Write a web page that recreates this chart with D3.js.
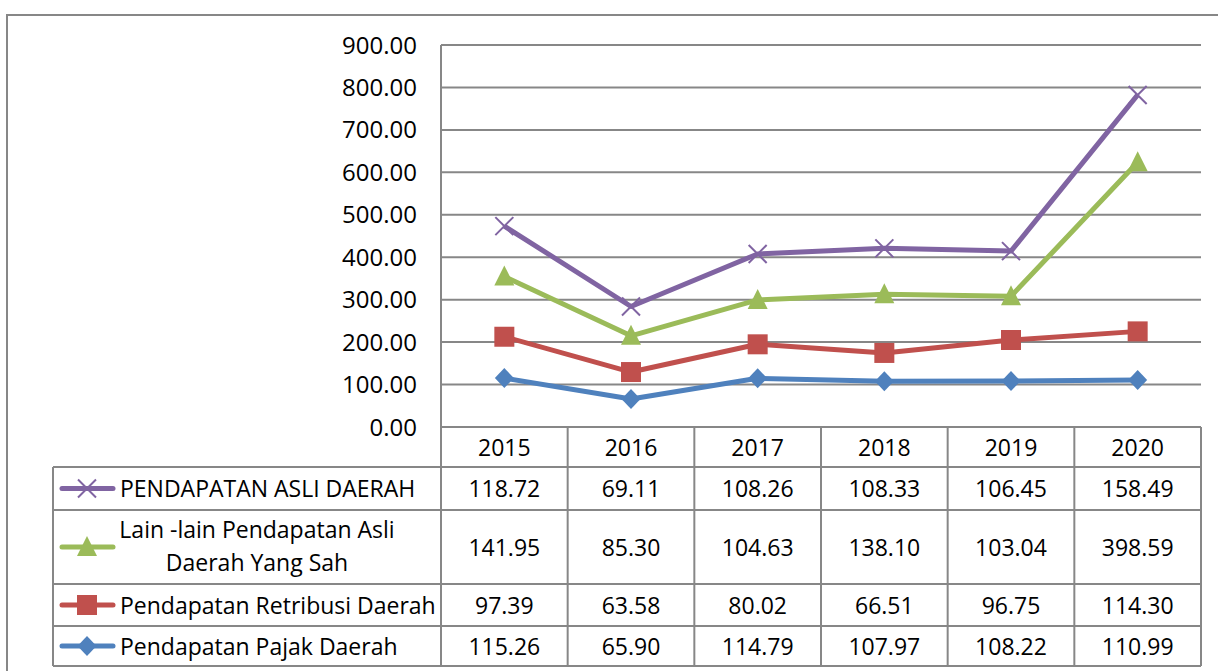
<!DOCTYPE html>
<html><head><meta charset="utf-8">
<script src="https://cdn.jsdelivr.net/npm/d3@7"></script>
<style>body{margin:0;background:#fff}svg{display:block}text{font-family:"Open Sans",Lato,sans-serif;fill:#000}</style>
</head><body>
<svg id="c" width="1218" height="671"></svg>
<script>
const years = ["2015","2016","2017","2018","2019","2020"];
const pajakDaerah = [115.26, 65.90, 114.79, 107.97, 108.22, 110.99];
const retribusiDaerah = [97.39, 63.58, 80.02, 66.51, 96.75, 114.30];
const lainLainPAD = [141.95, 85.30, 104.63, 138.10, 103.04, 398.59];
const pendapatanAsliDaerah = [118.72, 69.11, 108.26, 108.33, 106.45, 158.49];
const yTickValues = [0,100,200,300,400,500,600,700,800,900];
const seriesNames = ["Pendapatan Pajak Daerah","Pendapatan Retribusi Daerah","Lain -lain Pendapatan Asli Daerah Yang Sah","PENDAPATAN ASLI DAERAH"];

const svg = d3.select("#c");
const grid = "#878787";
const FS = 23;
const x = d3.scaleBand().domain(years).range([441,1201]);
const y = d3.scaleLinear().domain([0,900]).range([427,45]);

// outer border
svg.append("rect").attr("x",7).attr("y",15).attr("width",1230).attr("height",700)
  .attr("fill","none").attr("stroke",grid).attr("stroke-width",2);

// gridlines
svg.append("g").selectAll("line").data(yTickValues).join("line")
  .attr("x1",441).attr("x2",1201).attr("y1",d=>y(d)).attr("y2",d=>y(d))
  .attr("stroke",grid).attr("stroke-width",2);
// y labels
svg.append("g").selectAll("text").data(yTickValues).join("text")
  .attr("x",417).attr("y",d=>y(d)+8.5).attr("text-anchor","end")
  .attr("font-size",24).text(d=>d3.format(".2f")(d));
// y axis line
svg.append("line").attr("x1",441).attr("x2",441).attr("y1",y(900)).attr("y2",666)
  .attr("stroke",grid).attr("stroke-width",2);

// table
const rowYs = [467,510,584,626,666];
const tab = svg.append("g");
rowYs.forEach(r=>tab.append("line").attr("x1",53).attr("x2",1201).attr("y1",r).attr("y2",r).attr("stroke",grid).attr("stroke-width",2));
tab.append("line").attr("x1",53).attr("x2",53).attr("y1",467).attr("y2",666).attr("stroke",grid).attr("stroke-width",2);
tab.selectAll("line.v").data(years).join("line").attr("class","v")
  .attr("x1",d=>x(d)+x.bandwidth()).attr("x2",d=>x(d)+x.bandwidth()).attr("y1",427).attr("y2",666)
  .attr("stroke",grid).attr("stroke-width",2);
tab.selectAll("text.yr").data(years).join("text").attr("class","yr")
  .attr("x",d=>x(d)+x.bandwidth()/2).attr("y",456).attr("text-anchor","middle").attr("font-size",FS).text(d=>d);

// stacked series
const rows = years.map((yr,i)=>({year:yr, s0:pajakDaerah[i], s1:retribusiDaerah[i], s2:lainLainPAD[i], s3:pendapatanAsliDaerah[i]}));
const stack = d3.stack().keys(["s0","s1","s2","s3"])(rows);
const colors = ["#4F81BD","#C0504D","#9BBB59","#8064A2"];
const shapes = [
  "M0,-10L9.5,0L0,10L-9.5,0Z",
  "M-10,-10H10V10H-10Z",
  "M0,-11L10,9H-10Z",
  "M-9,-9L9,9M-9,9L9,-9"
];
const rawVals = [pajakDaerah, retribusiDaerah, lainLainPAD, pendapatanAsliDaerah];
const tableRow = [3,2,1,0];

function marker(g, k, cx, cy){
  const p = g.append("path").attr("d",shapes[k]).attr("transform",`translate(${cx},${cy})`);
  if(k===3) p.attr("stroke",colors[k]).attr("stroke-width",2).attr("fill","none");
  else p.attr("fill",colors[k]);
}

const line = d3.line().x(d=>x(d.data.year)+x.bandwidth()/2).y(d=>y(d[1]));
stack.forEach((s,k)=>{
  const g = svg.append("g");
  g.append("path").datum(s).attr("d",line).attr("fill","none").attr("stroke",colors[k]).attr("stroke-width",5).attr("stroke-linejoin","round");
  s.forEach(d=>marker(g,k,x(d.data.year)+x.bandwidth()/2,y(d[1])));
  // table row
  const r = tableRow[k];
  const cy = (rowYs[r]+rowYs[r+1])/2;
  g.append("line").attr("x1",62).attr("x2",113).attr("y1",cy).attr("y2",cy).attr("stroke",colors[k]).attr("stroke-width",5).attr("stroke-linecap","round");
  marker(g,k,87,cy);
  if(k===2){
    const words = seriesNames[k].split(" ");
    g.append("text").attr("x",257).attr("y",538).attr("text-anchor","middle").attr("font-size",FS).text(words.slice(0,4).join(" "));
    g.append("text").attr("x",257).attr("y",571).attr("text-anchor","middle").attr("font-size",FS).text(words.slice(4).join(" "));
  } else {
    g.append("text").attr("x",120).attr("y",cy+8.5).attr("font-size",FS).text(seriesNames[k]);
  }
  g.selectAll("text.v").data(rawVals[k]).join("text").attr("class","v")
    .attr("x",(d,i)=>x(years[i])+x.bandwidth()/2).attr("y",cy+8.5).attr("text-anchor","middle").attr("font-size",FS)
    .text(d=>d3.format(".2f")(d));
});
</script>
</body></html>
